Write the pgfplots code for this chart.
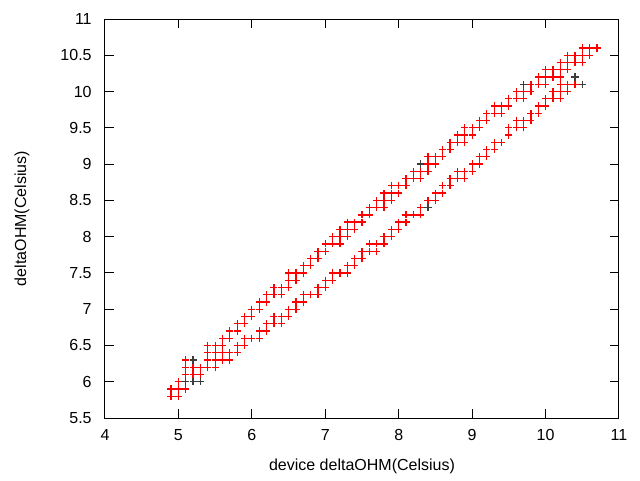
\documentclass[border=0pt]{standalone}
\usepackage{pgfplots}
\pgfplotsset{compat=1.18}
\usepackage{pgfplotstable}
\usepackage{fontspec}
\setmainfont{Liberation Sans}
\definecolor{gnured}{RGB}{255,0,0}
\definecolor{gnugray}{RGB}{60,60,60}

\pgfplotstableread{
x y
5.1 6.0
5.2 6.0
5.3 6.0
5.2 6.3
8.3 9.0
8.4 8.4
9.7 10.1
10.4 10.2
10.5 10.1
5.0 5.9
6.0 6.9
7.0 7.3
8.0 8.6
9.0 9.4
10.0 10.2
}\graydata

\pgfplotstableread{
x y
4.9 5.8
4.9 5.9
5.0 5.8
5.0 5.9
5.0 6.0
5.1 5.9
5.1 6.1
5.1 6.2
5.1 6.3
5.2 6.1
5.2 6.2
5.3 6.1
5.3 6.2
5.4 6.2
5.4 6.3
5.4 6.4
5.4 6.5
5.5 6.2
5.5 6.3
5.5 6.4
5.5 6.5
5.6 6.3
5.6 6.4
5.6 6.5
5.6 6.6
5.7 6.6
5.7 6.7
5.8 6.7
5.8 6.8
5.9 6.8
5.9 6.9
6.0 6.9
6.0 7.0
6.1 7.0
6.1 7.1
6.2 7.1
6.2 7.2
6.3 7.2
6.3 7.3
6.4 7.2
6.4 7.3
6.5 7.3
6.5 7.4
6.5 7.5
6.6 7.4
6.6 7.5
6.7 7.5
6.7 7.6
6.8 7.6
6.8 7.7
6.9 7.7
6.9 7.8
7.0 7.8
7.0 7.9
7.1 7.9
7.1 8.0
7.2 7.9
7.2 8.0
7.2 8.1
7.3 8.0
7.3 8.1
7.3 8.2
7.4 8.1
7.4 8.2
7.5 8.2
7.5 8.3
7.6 8.3
7.6 8.4
7.7 8.4
7.7 8.5
7.8 8.4
7.8 8.5
7.8 8.6
7.9 8.5
7.9 8.6
7.9 8.7
8.0 8.6
8.0 8.7
8.1 8.7
8.1 8.8
8.2 8.8
8.2 8.9
8.3 8.8
8.3 8.9
8.4 8.9
8.4 9.0
8.4 9.1
8.5 9.0
8.5 9.1
8.6 9.1
8.6 9.2
8.7 9.2
8.7 9.3
8.8 9.3
8.8 9.4
8.9 9.3
8.9 9.4
8.9 9.5
9.0 9.4
9.0 9.5
9.1 9.5
9.1 9.6
9.2 9.6
9.2 9.7
9.3 9.7
9.3 9.8
9.4 9.7
9.4 9.8
9.5 9.8
9.5 9.9
9.6 9.9
9.6 10.0
9.7 9.9
9.7 10.0
9.8 10.0
9.8 10.1
9.9 10.1
9.9 10.2
10.0 10.1
10.0 10.2
10.0 10.3
10.1 10.2
10.1 10.3
10.2 10.2
10.2 10.3
10.2 10.4
10.3 10.3
10.3 10.4
10.3 10.5
10.4 10.4
10.4 10.5
10.5 10.4
10.5 10.5
10.5 10.6
10.6 10.5
10.6 10.6
10.7 10.6
5.7 6.3
5.7 6.4
5.8 6.4
5.8 6.5
5.9 6.5
5.9 6.6
6.0 6.6
6.1 6.6
6.1 6.7
6.2 6.7
6.2 6.8
6.3 6.8
6.3 6.9
6.4 6.8
6.4 6.9
6.5 6.9
6.5 7.0
6.6 7.0
6.6 7.1
6.7 7.1
6.7 7.2
6.8 7.2
6.9 7.2
6.9 7.3
7.0 7.3
7.0 7.4
7.1 7.4
7.1 7.5
7.2 7.5
7.3 7.5
7.3 7.6
7.4 7.6
7.4 7.7
7.5 7.7
7.5 7.8
7.6 7.8
7.6 7.9
7.7 7.8
7.7 7.9
7.8 7.9
7.8 8.0
7.9 8.0
7.9 8.1
8.0 8.1
8.0 8.2
8.1 8.2
8.1 8.3
8.2 8.3
8.3 8.3
8.3 8.4
8.4 8.5
8.5 8.5
8.5 8.6
8.6 8.6
8.6 8.7
8.7 8.7
8.7 8.8
8.8 8.8
8.8 8.9
8.9 8.8
8.9 8.9
9.0 8.9
9.0 9.0
9.1 9.0
9.1 9.1
9.2 9.1
9.2 9.2
9.3 9.2
9.3 9.3
9.4 9.3
9.5 9.4
9.5 9.5
9.6 9.5
9.6 9.6
9.7 9.5
9.7 9.6
9.8 9.6
9.8 9.7
9.9 9.7
9.9 9.8
10.0 9.8
10.0 9.9
10.1 9.9
10.1 10.0
10.2 9.9
10.2 10.0
10.2 10.1
10.3 10.0
10.3 10.1
10.4 10.1
}\reddata

\begin{document}
\begin{tikzpicture}
\path[use as bounding box] (0pt,0pt) rectangle (480pt,360pt);
\begin{axis}[
  at={(78.75pt,46.5pt)}, anchor=south west,
  scale only axis, width=385.5pt, height=299.25pt,
  xmin=4, xmax=11, ymin=5.5, ymax=11,
  xtick={4,5,6,7,8,9,10,11},
  ytick={5.5,6,6.5,7,7.5,8,8.5,9,9.5,10,10.5,11},
  tick align=inside, major tick length=6.75pt,
  xtick pos=both, ytick pos=both,
  axis line style={black, line width=0.75pt},
  every tick/.style={black, line width=0.75pt},
  /pgf/number format/assume math mode=true,
  /pgf/number format/fixed,
  ticklabel style={font=\fontsize{12}{14}\selectfont, text=black},
  yticklabel style={xshift=-6.5pt},
  xticklabel style={yshift=-5pt},
  xlabel={device deltaOHM(Celsius)},
  ylabel={deltaOHM(Celsius)},
  label style={font=\fontsize{12}{14}\selectfont, text=black},
  xlabel style={at={(axis description cs:0.5,-0.1203)}, anchor=center},
  ylabel style={at={(axis description cs:-0.1615,0.5)}, anchor=center, rotate=0},
  clip=false,
]
\addplot[only marks, mark=+, mark size=2.7pt, color=gnugray, mark options={line width=0.95pt}] table[x=x,y=y] {\graydata};
\addplot[only marks, mark=+, mark size=2.7pt, color=gnured, mark options={line width=0.95pt}] table[x=x,y=y] {\reddata};
\end{axis}
\end{tikzpicture}
\end{document}
